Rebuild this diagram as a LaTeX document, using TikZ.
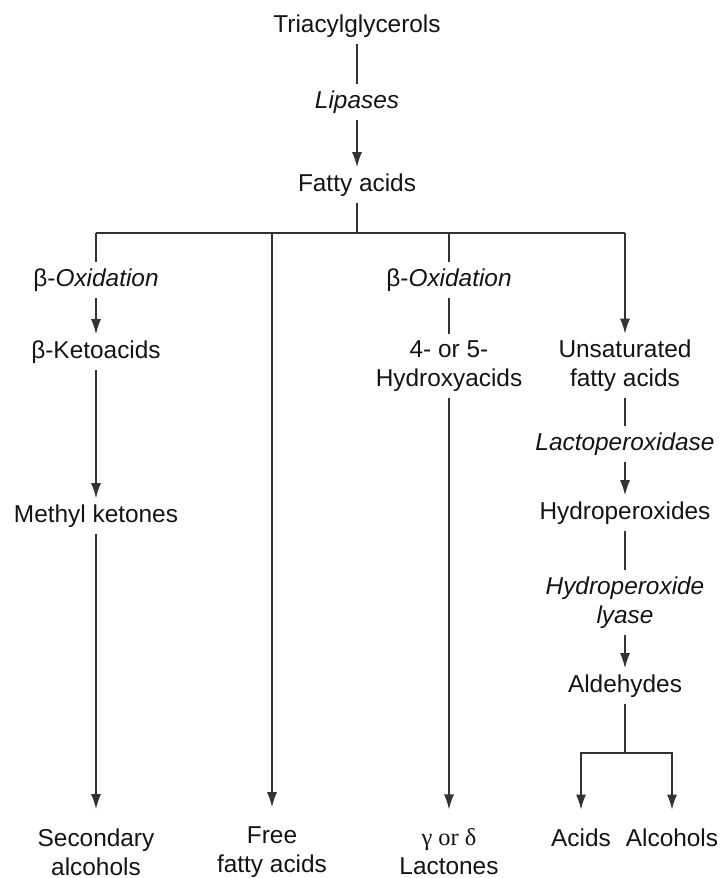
\documentclass[tikz,border=0pt]{standalone}
\usepackage{fontspec}
\setmainfont{Liberation Sans}
\newfontfamily\greekserif{Liberation Serif}
\usetikzlibrary{arrows.meta}

\begin{document}
\begin{tikzpicture}[x=0.5pt,y=-0.5pt]
            \tikzstyle{every node} = [font=\fontsize{12.2}{14.5}\selectfont, text=black!92, inner sep=3pt, align=center]
            \tikzstyle{enzyme} = [font=\fontsize{12.2}{14.5}\selectfont\itshape]
            \tikzstyle{link} = [line width=0.75pt, draw=black!80]
            \tikzstyle{flow} = [link, -{Latex[length=7.5pt,width=5pt]}]
            \useasboundingbox (0,0) rectangle (721,878);
            % top of the tree
            \node (tag) at (357,26) {Triacylglycerols};
            \node[enzyme] (lip) at (357,102) {Lipases};
            \node (fa) at (357,185) {Fatty acids};
            \coordinate (j1) at (96,233);
            \coordinate (j2) at (272,233);
            \coordinate (j3) at (449,233);
            \coordinate (j4) at (625,233);
            \draw[link] (tag) -- (lip);
            \draw[flow] (lip) -- (fa);
            \draw[link] (fa) -- (fa |- j1);
            \draw[link] (j1) -- (j4);
            % first column
            \node (ox1) at (96,280) {β-\textit{Oxidation}};
            \node (keto) at (96,352) {β-Ketoacids};
            \node (methyl) at (96,516) {Methyl ketones};
            \node (sec) at (96,852) {Secondary\\alcohols};
            \draw[link] (j1) -- (ox1);
            \draw[flow] (ox1) -- (keto);
            \draw[flow] (keto) -- (methyl);
            \draw[flow, shorten >=6.5pt] (methyl) -- (sec);
            % second column
            \node (free) at (272,852) {Free\\fatty acids};
            \draw[flow, shorten >=6.5pt] (j2) -- (free);
            % third column
            \node (ox2) at (449,280) {β-\textit{Oxidation}};
            \node (hydroxy) at (449,366) {4- or 5-\\Hydroxyacids};
            \node (lact) at (449,852) {{\greekserif γ or δ}\\Lactones};
            \draw[link] (j3) -- (ox2);
            \draw[link] (ox2) -- (hydroxy);
            \draw[flow, shorten >=6.5pt] (hydroxy) -- (lact);
            % fourth column
            \node (unsat) at (625,366) {Unsaturated\\fatty acids};
            \node[enzyme] (lpo) at (625,444) {Lactoperoxidase};
            \node (hperox) at (625,513) {Hydroperoxides};
            \node[enzyme] (lyase) at (625,602.5) {Hydroperoxide\\lyase};
            \node (ald) at (625,686) {Aldehydes};
            \node (acids) at (581,838) {Acids};
            \node (alc) at (672,838) {Alcohols};
            \coordinate (split) at (625,753);
            \draw[flow] (j4) -- (unsat);
            \draw[link] (unsat) -- (lpo);
            \draw[flow] (lpo) -- (hperox);
            \draw[link] (hperox) -- (lyase);
            \draw[flow] (lyase) -- (ald);
            \draw[link] (ald) -- (split);
            \draw[flow, shorten >=6.5pt] (split) -| (acids);
            \draw[flow, shorten >=6.5pt] (split) -| (alc);
        \end{tikzpicture}
\end{document}
